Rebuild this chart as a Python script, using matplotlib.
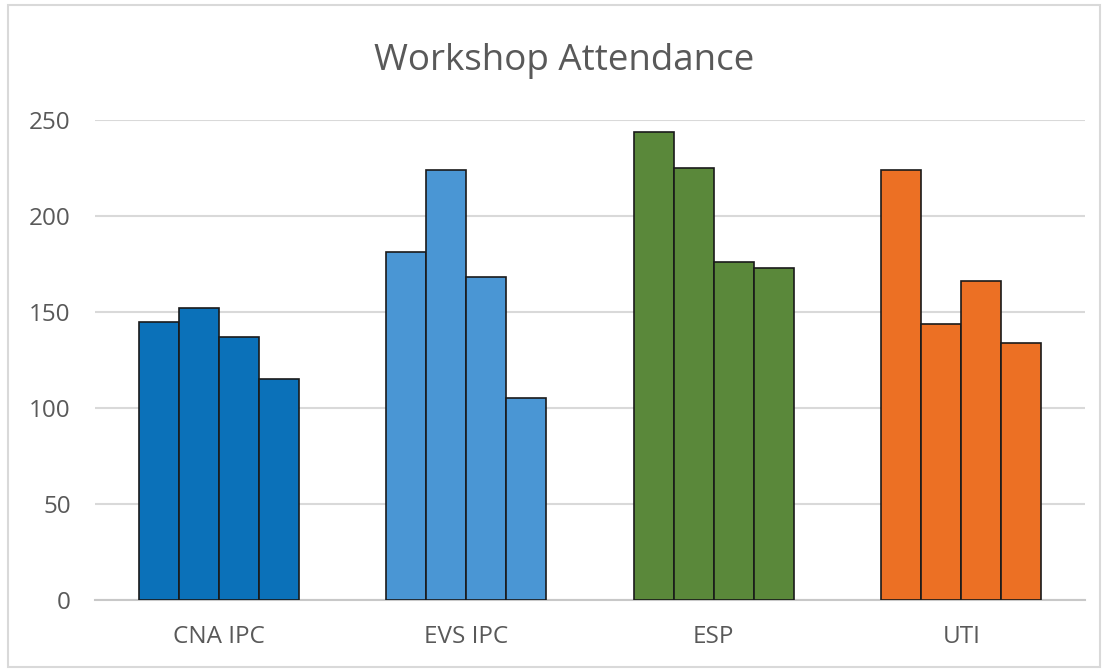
import matplotlib.pyplot as plt
import numpy as np
from matplotlib.patches import Rectangle

# data
categories = ['CNA IPC', 'EVS IPC', 'ESP', 'UTI']
cna_ipc = [145, 152, 137, 115]
evs_ipc = [181, 224, 168, 105]
esp = [244, 225, 176, 173]
uti = [224, 144, 166, 134]
groups = [cna_ipc, evs_ipc, esp, uti]
colors = ['#0b71b9', '#4a96d4', '#5a883a', '#ec7024']
yticks = [0, 50, 100, 150, 200, 250]

plt.rcParams['font.family'] = ['Open Sans', 'DejaVu Sans']

fig = plt.figure(figsize=(11.05, 6.7), dpi=100)
ax = fig.add_axes([95 / 1105, 70 / 670, 990 / 1105, 480 / 670])

# chart border
fig.patches.append(Rectangle((8 / 1105, 3 / 670), 1092 / 1105, 662 / 670,
                             transform=fig.transFigure, fill=False,
                             edgecolor='#d9d9d9', linewidth=1.5))

bar_w = 40 / 248
x = np.arange(len(categories))
for i, vals in enumerate(groups):
    n = len(vals)
    offs = (np.arange(n) - (n - 1) / 2) * bar_w
    ax.bar(x[i] + offs, vals, width=bar_w, color=colors[i],
           edgecolor='#1a1a1a', linewidth=1.2, zorder=3)

ax.set_xlim(-0.5, len(categories) - 0.5)
ax.set_ylim(0, 250)
ax.set_yticks(yticks)
ax.set_xticks(x)
ax.set_xticklabels(categories)
ax.yaxis.grid(True, color='#d9d9d9', linewidth=1.5, zorder=0)
ax.set_axisbelow(True)
for s in ['top', 'right', 'left']:
    ax.spines[s].set_visible(False)
ax.spines['bottom'].set_color('#c8c8c8')
ax.spines['bottom'].set_linewidth(1.5)
ax.tick_params(axis='both', length=0, labelsize=17.5, colors='#595959')
ax.tick_params(axis='y', pad=17.5)
ax.tick_params(axis='x', pad=18)

fig.text(564 / 1105, 1 - 70 / 670, 'Workshop Attendance', ha='center', va='baseline',
         fontsize=26.5, color='#595959')

fig.savefig('out.png', dpi=100)
